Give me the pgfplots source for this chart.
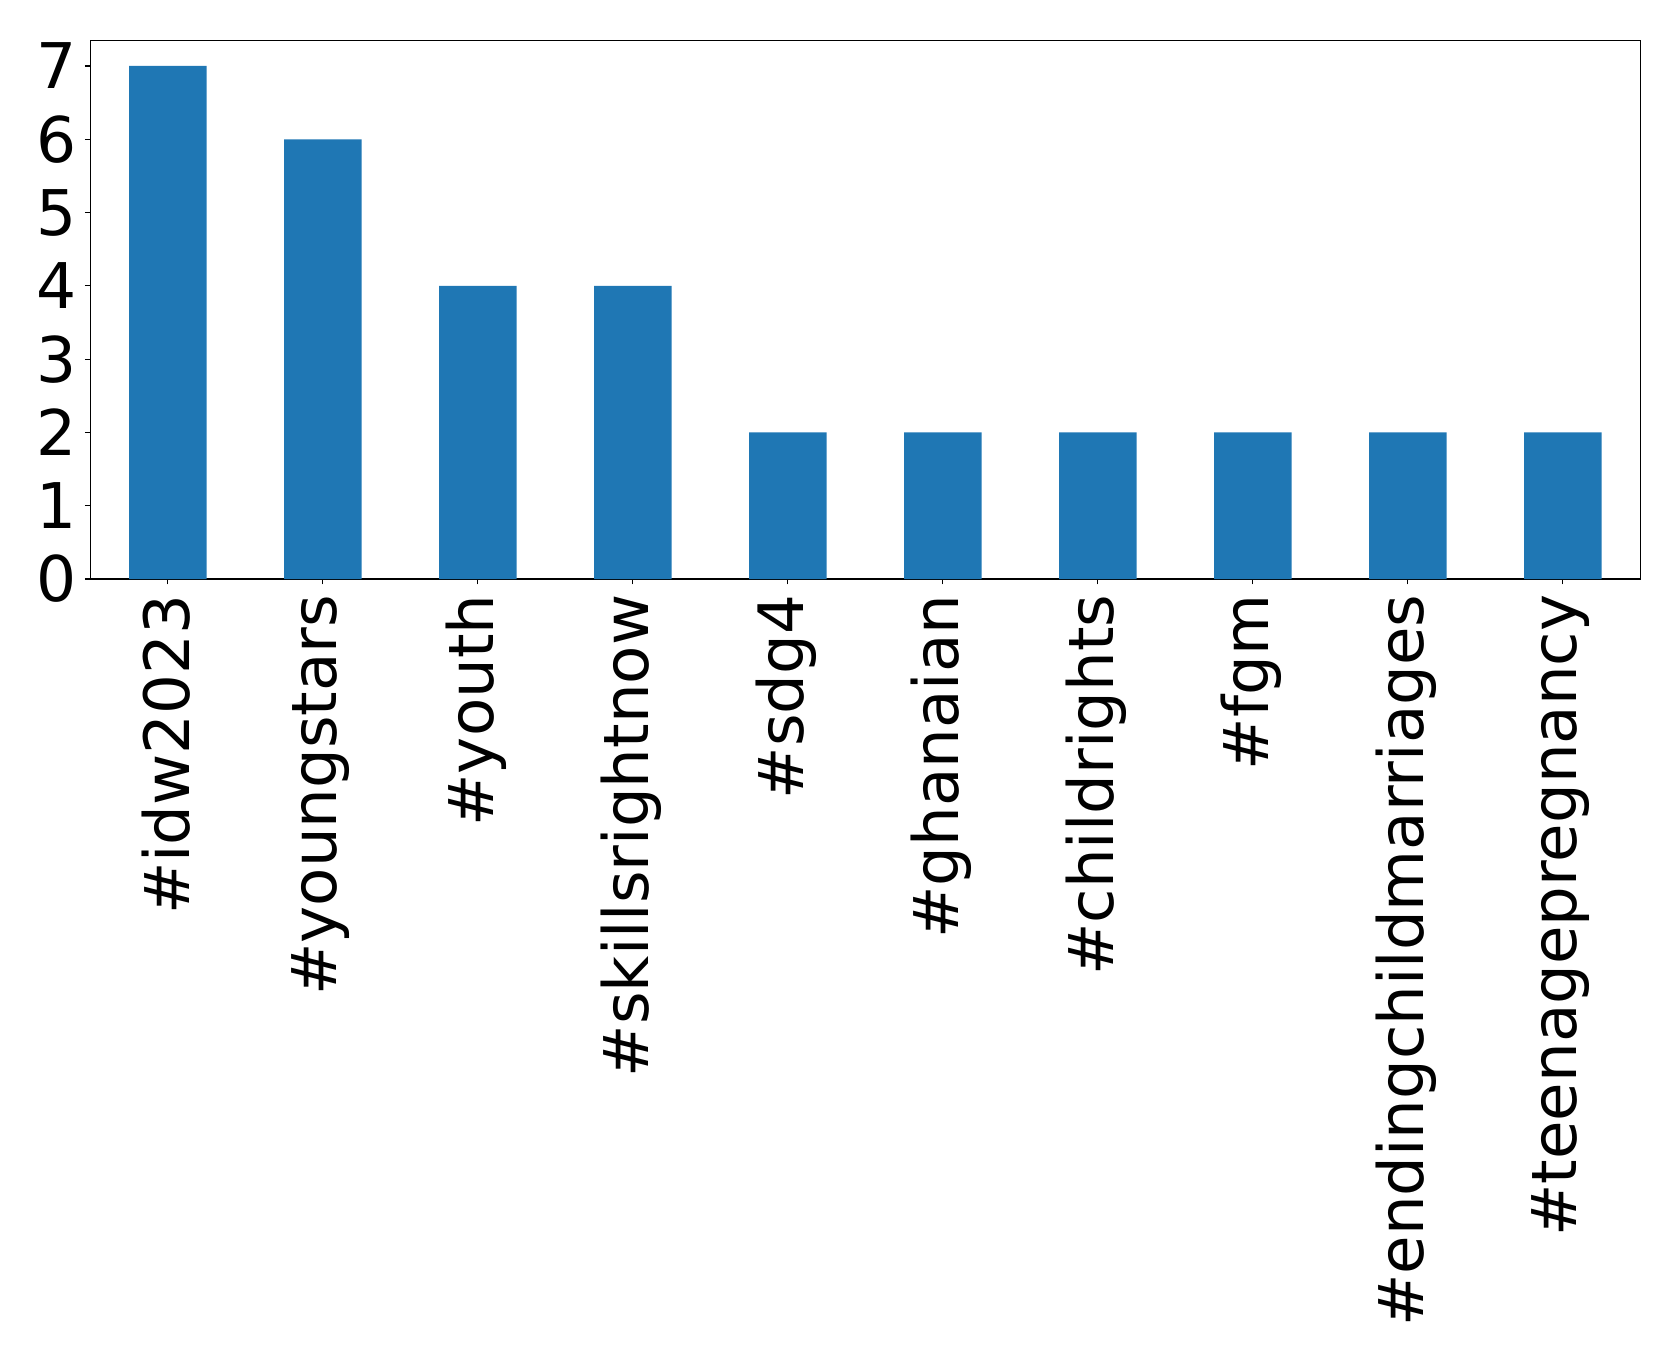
\documentclass[border=0pt]{standalone}
\usepackage{pgfplots}
\pgfplotsset{compat=1.18}
\usepackage{fontspec}
\setmainfont{DejaVu Sans}
\definecolor{mplblue}{HTML}{1F77B4}
\begin{document}
\begin{tikzpicture}
  \path (-45.15pt,-390pt) rectangle (794.35pt,289.5pt);
  \begin{axis}[
      scale only axis,
      width=775pt,
      height=269.35pt,
      xmin=-0.5, xmax=9.5,
      ymin=0, ymax=7.35,
      xtick={0,1,2,3,4,5,6,7,8,9},
      xticklabels={\#idw2023,\#youngstars,\#youth,\#skillsrightnow,\#sdg4,\#ghanaian,\#childrights,\#fgm,\#endingchildmarriages,\#teenagepregnancy},
      ytick={0,1,2,3,4,5,6,7},
      tick align=outside,
      xtick pos=left, ytick pos=left,
      major tick length=2.7pt,
      every tick/.style={black, line width=0.55pt},
      axis line style={line width=0.55pt},
      /pgf/number format/assume math mode=true,
      tick label style={font=\fontsize{31.5}{36}\selectfont},
      xticklabel style={rotate=90, anchor=east, inner sep=0pt, xshift=-5pt, yshift=1pt,
        font=\fontsize{31.3}{36}\selectfont},
      yticklabel style={inner sep=0pt, xshift=-4pt},
      ybar, bar width=0.5,
    ]
    \addplot[fill=mplblue, draw=none] coordinates {(0,7) (1,6) (2,4) (3,4) (4,2) (5,2) (6,2) (7,2) (8,2) (9,2)};
  \end{axis}
\end{tikzpicture}
\end{document}
